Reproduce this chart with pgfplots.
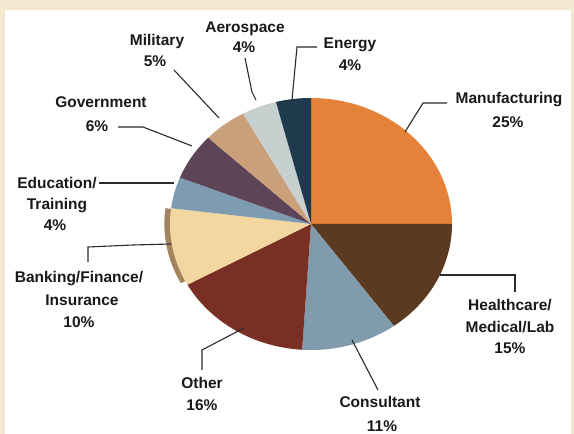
\documentclass[border=0pt]{standalone}
\usepackage{pgfplots}
\pgfplotsset{compat=1.18}
\usepackage{fontspec}
\setmainfont{Liberation Sans}
\definecolor{bgbeige}{HTML}{F4E7CF}
\definecolor{cManu}{HTML}{E5823A}
\definecolor{cHealth}{HTML}{5C3A21}
\definecolor{cCons}{HTML}{7F9BAC}
\definecolor{cOther}{HTML}{7A2F24}
\definecolor{cBank}{HTML}{F3D6A0}
\definecolor{cEdu}{HTML}{7D9CB2}
\definecolor{cGov}{HTML}{5E4457}
\definecolor{cMil}{HTML}{C9A07A}
\definecolor{cAero}{HTML}{C8CFCF}
\definecolor{cEnergy}{HTML}{1F3A4D}
\definecolor{cRim}{HTML}{A3845F}
\definecolor{leader}{HTML}{2A2A2A}
\newcommand\lab{\fontsize{15.5}{22}\selectfont\bfseries}
\begin{document}
\begin{tikzpicture}[x=1pt,y=1pt]
\fill[bgbeige] (0,0) rectangle (574,434);
\fill[white] (5,0) rectangle (571,424);
\begin{axis}[at={(0,0)}, anchor=south west, width=574pt, height=434pt,
  scale only axis, hide axis, clip=false,
  xmin=-2.2057, xmax=1.8652, ymin=-1.6667, ymax=1.7778]
% 3D rim behind the Banking slice (10%)
\addplot[draw=none, fill=cRim, domain=-152:-187.2, samples=40]
  ({cos(x)-0.04},{sin(x)}) -- (axis cs:-0.04,0) -- cycle;
\gdef\startang{90}
\foreach \p/\c in {25/cManu,15/cHealth,11/cCons,16/cOther,10/cBank,4/cEdu,6/cGov,5/cMil,4/cAero,4/cEnergy}{
  \pgfmathsetmacro\endang{\startang-3.6*\p}
  \edef\temp{\noexpand\addplot[draw=none, fill=\c, domain=\startang:\endang, samples=60]
    ({cos(x)},{sin(x)}) -- (axis cs:0,0) -- cycle;}
  \temp
  \xdef\startang{\endang}
}
\end{axis}
\begin{scope}[shift={(0,434)}, yscale=-1]
\begin{scope}[draw=leader, line width=1.1pt]
\draw (405,132) -- (423,103) -- (447,103);
\draw (440,275) -- (515,275) -- (515,292);
\draw (352,340) -- (378,390);
\draw (244,328) -- (202,350) -- (202,370);
\draw (171,244) -- (133,245) -- (88,247) -- (88,262);
\draw (174,183) -- (99,183);
\draw (192,146) -- (143,127) -- (118,127);
\draw (174,70) -- (219,118);
\draw (245,58) -- (252,92) -- (256,100);
\draw (317,47) -- (297,47) -- (292,100);
\end{scope}
\begin{scope}[every node/.style={font=\lab, text height=11pt, text depth=0pt, inner sep=0pt, anchor=center, text=black!90}]
\node at (509,98) {Manufacturing};
\node at (508,122) {25\%};
\node at (510,305) {Healthcare/};
\node at (510,327) {Medical/Lab};
\node at (510,348) {15\%};
\node at (380,402) {Consultant};
\node at (382,426) {11\%};
\node at (202,383) {Other};
\node at (202,405) {16\%};
\node at (79,277) {Banking/Finance/};
\node at (82,300) {Insurance};
\node at (79,322) {10\%};
\node at (57,183) {Education/};
\node at (57,204) {Training};
\node at (55,225) {4\%};
\node at (101,102) {Government};
\node at (97,126) {6\%};
\node at (157,40) {Military};
\node at (155,61) {5\%};
\node at (245,27) {Aerospace};
\node at (244,47) {4\%};
\node at (350,43) {Energy};
\node at (350,65) {4\%};
\end{scope}
\end{scope}
\end{tikzpicture}
\end{document}
